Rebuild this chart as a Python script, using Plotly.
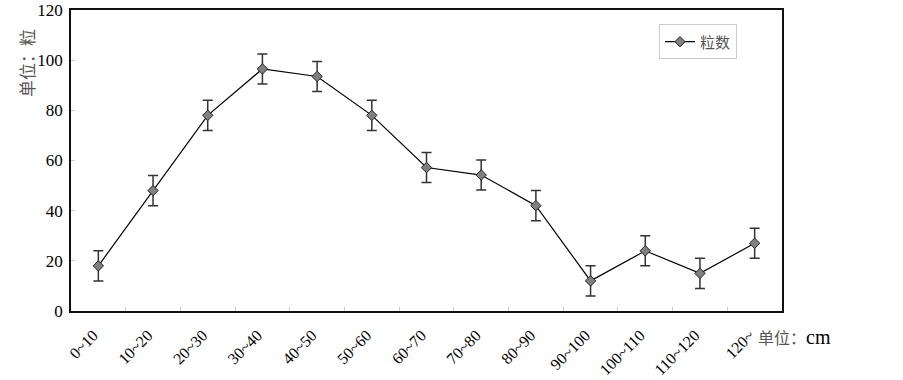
import plotly.graph_objects as go

categories = ["0~10", "10~20", "20~30", "30~40", "40~50", "50~60", "60~70",
              "70~80", "80~90", "90~100", "100~110", "110~120", "120~"]
grain_counts = [18, 48, 78, 96.5, 93.5, 78, 57.2, 54.2, 42, 12, 24, 15, 27]
error_values = [6, 6, 6, 6, 6, 6, 6, 6, 6, 6, 6, 6, 6]
y_ticks = [0, 20, 40, 60, 80, 100, 120]

serif = "Liberation Serif"
cjk = "Noto Sans CJK SC"

fig = go.Figure()
fig.add_trace(go.Scatter(
    x=categories, y=grain_counts, name="粒数",
    mode="lines+markers",
    line=dict(color="black", width=1.2),
    marker=dict(symbol="diamond", size=8, color="#808080",
                line=dict(color="#222222", width=1)),
    error_y=dict(type="data", array=error_values, visible=True,
                 color="#333333", thickness=1.5, width=5),
))

fig.update_layout(
    width=903, height=380,
    margin=dict(l=71, r=121, t=10, b=69),
    paper_bgcolor="white", plot_bgcolor="white",
    showlegend=True,
    legend=dict(x=0.827, y=0.952, xanchor="left", yanchor="top",
                bordercolor="#cccccc", borderwidth=1, bgcolor="white",
                font=dict(family=cjk, size=15, color="#555555")),
    xaxis=dict(type="category", range=[-0.5, 12.5], tickson="boundaries",
               ticks="inside", ticklen=4, tickcolor="#cccccc",
               tickangle=-45, showgrid=False, zeroline=False, automargin=False,
               ticklabelstandoff=7, ticklabelshift=-5,
               showline=True, linecolor="#111111", linewidth=1.5, mirror=True,
               tickfont=dict(family=serif, size=16, color="black")),
    yaxis=dict(range=[0, 120], tickvals=y_ticks, ticks="inside", ticklen=4,
               tickcolor="#cccccc", showgrid=False, zeroline=False, automargin=False,
               ticklabelstandoff=3,
               showline=True, linecolor="#111111", linewidth=1.5, mirror=True,
               tickfont=dict(family=serif, size=17, color="black")),
    annotations=[
        dict(text="单位：粒", xref="paper", yref="paper", x=-0.062, y=0.824,
             xanchor="center", yanchor="middle", textangle=-90, showarrow=False,
             font=dict(family=cjk, size=17, color="#555555")),
        dict(text="单位：<span style='font-family:Liberation Serif;color:black;font-size:20px'>cm</span>",
             xref="paper", yref="paper", x=0.964, y=-0.087,
             xanchor="left", yanchor="middle", showarrow=False,
             font=dict(family=cjk, size=16, color="#555555")),
    ],
)

fig.write_html("out.html", config={"displayModeBar": False},
               post_script="document.body.style.margin='0';")
